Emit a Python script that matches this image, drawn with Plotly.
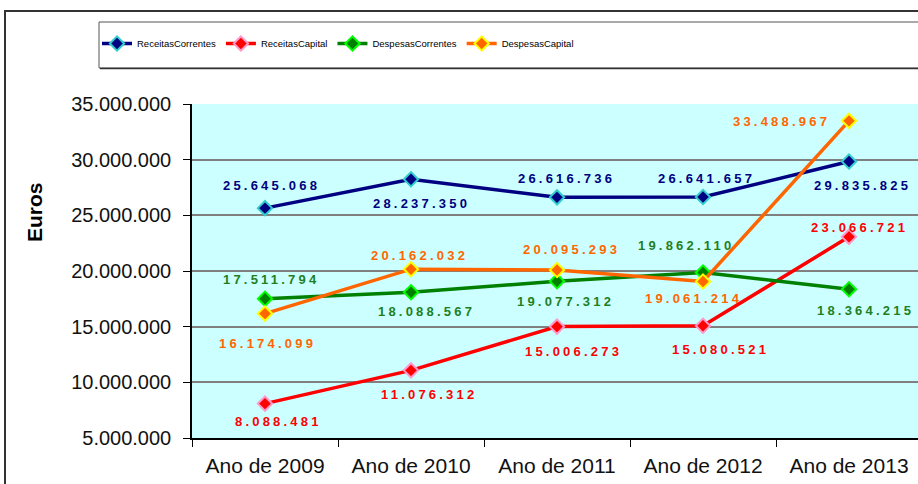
import plotly.graph_objects as go

categories = ["Ano de 2009", "Ano de 2010", "Ano de 2011", "Ano de 2012", "Ano de 2013"]
receitas_correntes = [25645068, 28237350, 26616736, 26641657, 29835825]
receitas_capital = [8088481, 11076312, 15006273, 15080521, 23066721]
despesas_correntes = [17511794, 18088567, 19077312, 19862110, 18364215]
despesas_capital = [16174099, 20162032, 20095293, 19061214, 33488967]
series_names = ["ReceitasCorrentes", "ReceitasCapital", "DespesasCorrentes", "DespesasCapital"]
y_title = "Euros"

series_values = [receitas_correntes, receitas_capital, despesas_correntes, despesas_capital]
line_colors = ["#000080", "#FF0000", "#008000", "#FF6600"]
marker_edge = ["#33CCCC", "#FF99CC", "#00FF00", "#FFFF00"]
label_colors = ["#000080", "#FF0000", "#1E7F1E", "#FF6600"]
# label offsets in pixels (dx right, dy down)
label_offsets = [
    [(5, -23), (9, 24), (8, -19), (2, -19), (12, 24)],
    [(12, 18), (16, 24), (15, 25), (16, 24), (9, -9)],
    [(4, -19), (14, 19), (7, 20), (-19, -27), (15, 21)],
    [(1, 30), (7, -14), (13, -20), (-11, 17), (-69, 1)],
]

W, H = 918, 484
L, R, T, B = 192, 0, 104, 46
pw, ph = W - L - R, H - T - B


def px(x):
    return (x - L) / pw


def py(y):
    return (H - B - y) / ph


fig = go.Figure()
for name, vals, lc, me in zip(series_names, series_values, line_colors, marker_edge):
    fig.add_trace(go.Scatter(
        x=categories, y=vals, name=name, mode="lines+markers",
        line=dict(color=lc, width=3.5),
        marker=dict(symbol="diamond", size=11, color=lc, line=dict(color=me, width=2)),
        cliponaxis=False,
    ))

def fmt(v):
    return f"{v:,}".replace(",", ".")

annotations = []
for vals, col, offs in zip(series_values, label_colors, label_offsets):
    for c, v, (dx, dy) in zip(categories, vals, offs):
        annotations.append(dict(
            x=c, y=v, xref="x", yref="y", showarrow=False,
            text=f'<span style="letter-spacing:3.2px">{fmt(v)}</span>',
            font=dict(family="Arial, Liberation Sans", size=13, color=col, weight="bold"),
            xshift=dx + 1.5, yshift=-dy,
        ))

annotations.append(dict(
    x=px(34), y=py(212), xref="paper", yref="paper", showarrow=False,
    xanchor="center", yanchor="middle",
    text=f"<b>{y_title}</b>", textangle=-90,
    font=dict(family="Arial, Liberation Sans", size=21, color="#000000"),
))

shapes = [
    # outer chart frame
    dict(type="rect", xref="paper", yref="paper", x0=px(5), x1=px(940), y0=py(520), y1=py(11),
         line=dict(color="#333333", width=2), fillcolor="rgba(0,0,0,0)", layer="below"),
    # legend box
    dict(type="rect", xref="paper", yref="paper", x0=px(99), x1=px(940), y0=py(68), y1=py(22),
         line=dict(color="#555555", width=1), fillcolor="white", layer="below"),
    dict(type="line", xref="paper", yref="paper", x0=px(100), x1=px(940), y0=py(68.5), y1=py(68.5),
         line=dict(color="#333333", width=1.5), layer="below"),
]

fig.update_layout(
    width=W, height=H,
    margin=dict(l=L, r=R, t=T, b=B, pad=0),
    paper_bgcolor="white", plot_bgcolor="#CCFFFF",
    separators=",.",
    font=dict(family="Arial, Liberation Sans", color="#111111"),
    showlegend=True,
    legend=dict(orientation="h", x=px(97), y=py(29), xanchor="left", yanchor="top",
                bgcolor="rgba(0,0,0,0)", borderwidth=0,
                font=dict(family="Arial, Liberation Sans", size=9.5, color="#000000"),
                itemwidth=30, tracegroupgap=0),
    annotations=annotations,
    shapes=shapes,
)
fig.update_xaxes(
    type="category", range=[-0.5, -0.5 + pw / 146.0],
    showline=True, linecolor="#000000", linewidth=1.5,
    ticks="outside", tickson="boundaries", ticklen=7, tickcolor="#000000", tickwidth=1,
    showgrid=False, tickfont=dict(size=21, color="#111111"), ticklabelstandoff=8,
    fixedrange=True,
)
fig.update_yaxes(
    range=[5000000, 35000000], dtick=5000000, tickformat=",",
    showline=True, linecolor="#000000", linewidth=1.5,
    ticks="outside", ticklen=7, tickcolor="#000000", tickwidth=1,
    showgrid=True, gridcolor="#808080", gridwidth=1.5,
    tickfont=dict(size=20, color="#111111"), ticklabelstandoff=8, zeroline=False,
)

fig.write_html("out.html", config={"displayModeBar": False},
               post_script="document.body.style.margin='0px';document.body.style.overflow='hidden';")
